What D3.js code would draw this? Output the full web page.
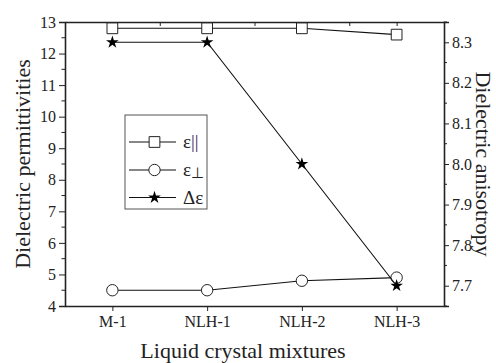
<!DOCTYPE html>
<html>
<head>
<meta charset="utf-8">
<script src="https://cdn.jsdelivr.net/npm/d3@7"></script>
<style>
  body { margin: 0; background: #fff; }
  text { font-family: "Liberation Serif", "Times New Roman", serif; fill: #222; }
</style>
</head>
<body>
<div id="chart"></div>
<script>
// data
var categories = ["M-1", "NLH-1", "NLH-2", "NLH-3"];
var epsPar = [12.8, 12.8, 12.8, 12.6];     // left axis
var epsPerp = [4.5, 4.5, 4.8, 4.9];        // left axis
var deltaEps = [8.3, 8.3, 8.0, 7.7];       // right axis
var leftTicks = [4, 5, 6, 7, 8, 9, 10, 11, 12, 13];
var rightTicks = [7.7, 7.8, 7.9, 8.0, 8.1, 8.2, 8.3];

var W = 496, H = 363;
var pLeft = 65, pRight = 444, pTop = 22, pBottom = 306;

var svg = d3.select("#chart").append("svg")
    .attr("width", W)
    .attr("height", H);

var x = d3.scalePoint().domain(categories).range([pLeft, pRight]).padding(0.5);
var xLin = d3.scaleLinear().domain([0.5, 4.5]).range([pLeft, pRight]);
var y = d3.scaleLinear().domain([4, 13]).range([pBottom, pTop]);
var y2 = d3.scaleLinear().domain([7.65, 8.35]).range([pBottom, pTop]);

// minor ticks
var leftMinor = d3.range(4.5, 13, 1);
var rightMinor = d3.range(7.65, 8.36, 0.1);

// left axis
var gl = svg.append("g").attr("transform", "translate(" + pLeft + ",0)");
gl.call(d3.axisLeft(y).tickValues(leftTicks).tickFormat(d3.format("d")).tickSize(6).tickPadding(3));
gl.selectAll(".minor").data(leftMinor).enter().append("line")
    .attr("x1", -3.5).attr("x2", 0)
    .attr("y1", function(d) { return y(d); }).attr("y2", function(d) { return y(d); })
    .attr("stroke", "#222");

// right axis
var gr = svg.append("g").attr("transform", "translate(" + pRight + ",0)");
gr.call(d3.axisRight(y2).tickValues(rightTicks).tickFormat(d3.format(".1f")).tickSize(5).tickPadding(3));
gr.selectAll(".minor").data(rightMinor).enter().append("line")
    .attr("x1", 0).attr("x2", 3)
    .attr("y1", function(d) { return y2(d); }).attr("y2", function(d) { return y2(d); })
    .attr("stroke", "#222");

// bottom axis
var gb = svg.append("g").attr("transform", "translate(0," + pBottom + ")");
gb.call(d3.axisBottom(x).tickSize(5).tickPadding(5).tickSizeOuter(0));

// top axis, ticks inward, no labels
var gt = svg.append("g").attr("transform", "translate(0," + pTop + ")");
gt.call(d3.axisTop(xLin).tickValues(d3.range(1, 4.01, 0.5)).tickSize(-4).tickSizeOuter(0).tickFormat(""));

svg.selectAll(".domain").attr("stroke", "#222").attr("stroke-width", 1.6);
svg.selectAll(".tick line").attr("stroke", "#222");
svg.selectAll(".tick text")
    .attr("fill", "#222")
    .style("font-size", "16px")
    .style("font-family", "'Liberation Serif', serif");

// series
var idx = d3.range(categories.length);
function drawLine(vals, ys) {
  svg.append("path")
      .datum(idx)
      .attr("fill", "none")
      .attr("stroke", "#111")
      .attr("stroke-width", 1.1)
      .attr("d", d3.line()
        .x(function(i) { return x(categories[i]); })
        .y(function(i) { return ys(vals[i]); }));
}

drawLine(epsPar, y);
svg.append("g").selectAll("path").data(idx).enter().append("path")
    .attr("transform", function(i) { return "translate(" + x(categories[i]) + "," + y(epsPar[i]) + ")"; })
    .attr("d", d3.symbol().type(d3.symbolSquare).size(115))
    .attr("fill", "#fff").attr("stroke", "#222").attr("stroke-width", 1);

drawLine(epsPerp, y);
svg.append("g").selectAll("circle").data(idx).enter().append("circle")
    .attr("cx", function(i) { return x(categories[i]); })
    .attr("cy", function(i) { return y(epsPerp[i]); })
    .attr("r", 5.7)
    .attr("fill", "#fff").attr("stroke", "#222").attr("stroke-width", 1);

drawLine(deltaEps, y2);
svg.append("g").selectAll("path").data(idx).enter().append("path")
    .attr("transform", function(i) { return "translate(" + x(categories[i]) + "," + y2(deltaEps[i]) + ")"; })
    .attr("d", d3.symbol().type(d3.symbolStar).size(50))
    .attr("fill", "#000");

// legend
var lg = svg.append("g");
lg.append("rect")
    .attr("x", 125).attr("y", 115).attr("width", 82).attr("height", 94)
    .attr("fill", "#fff").attr("stroke", "#555").attr("stroke-width", 1);
var rows = [
  { label: "ε", extra: "||", type: "square", y: 142 },
  { label: "ε", extra: "⊥", type: "circle", y: 170 },
  { label: "Δε", extra: "", type: "star", y: 197.5 }
];
rows.forEach(function(r) {
  lg.append("line")
      .attr("x1", 129).attr("x2", 176).attr("y1", r.y).attr("y2", r.y)
      .attr("stroke", "#111").attr("stroke-width", 1.1);
  var sym = r.type === "square" ? d3.symbolSquare : r.type === "circle" ? d3.symbolCircle : d3.symbolStar;
  var size = r.type === "square" ? 115 : r.type === "circle" ? 102 : 50;
  lg.append("path")
      .attr("transform", "translate(154.5," + r.y + ")")
      .attr("d", d3.symbol().type(sym).size(size))
      .attr("fill", r.type === "star" ? "#000" : "#fff")
      .attr("stroke", r.type === "star" ? "none" : "#222");
  var t = lg.append("text")
      .attr("x", 183).attr("y", r.y + 6)
      .style("font-size", "19px")
      .text(r.label);
  if (r.extra === "||") {
    t.append("tspan").attr("fill", "#3a2a5a").style("font-size", "19px").attr("dy", 0).text("||");
  } else if (r.extra) {
    t.append("tspan").style("font-size", "15px").attr("dy", 2).text(r.extra);
  }
});

// axis titles
svg.append("text")
    .attr("transform", "translate(30," + ((pTop + pBottom) / 2) + ") rotate(-90)")
    .attr("text-anchor", "middle")
    .style("font-size", "22px")
    .text("Dielectric permittivities");

svg.append("text")
    .attr("transform", "translate(476," + ((pTop + pBottom) / 2) + ") rotate(90)")
    .attr("text-anchor", "middle")
    .style("font-size", "22px")
    .text("Dielectric anisotropy");

svg.append("text")
    .attr("x", 243).attr("y", 358)
    .attr("text-anchor", "middle")
    .style("font-size", "22px")
    .text("Liquid crystal mixtures");
</script>
</body>
</html>
